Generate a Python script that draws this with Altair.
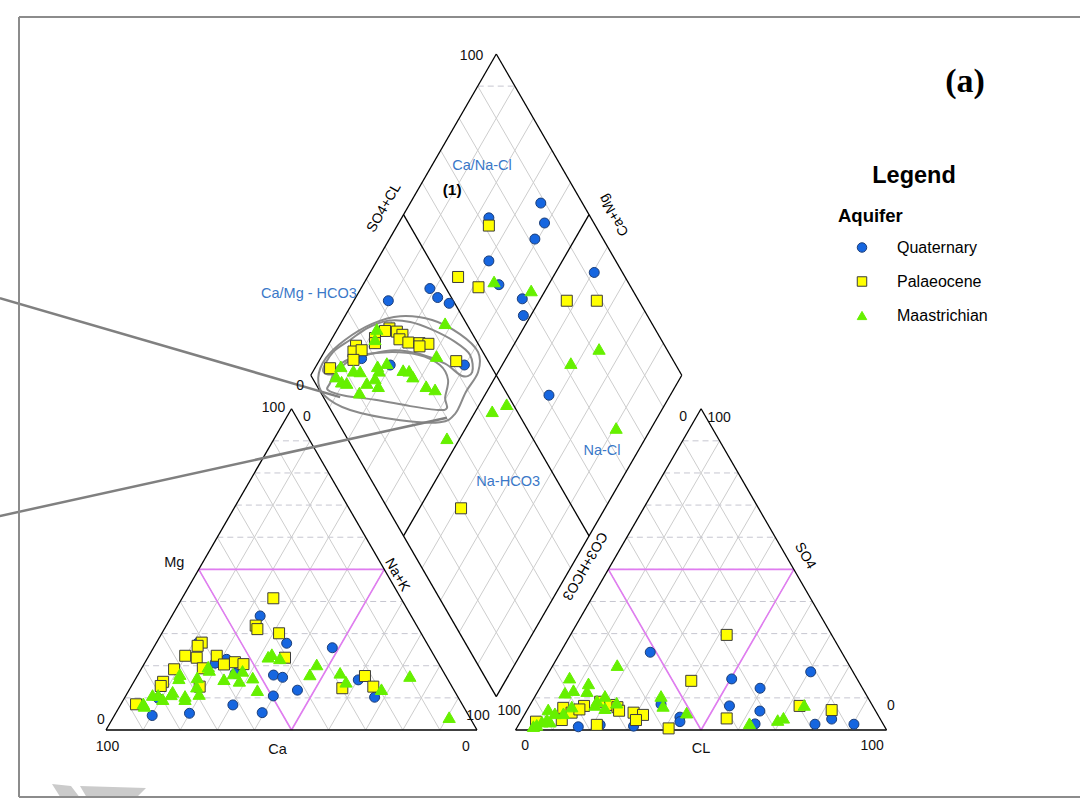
import math
import altair as alt
import pandas as pd

# ---------------- sample values (percent of meq/l) ----------------
AQUIFERS = ["Quaternary", "Palaeocene", "Maastrichian"]

# cation triangle: (Ca, Mg)
cation_quaternary = [(40.7, 35.5), (37.8, 27.0), (61.8, 27.0), (56.5, 22.0), (60.2, 20.8), (56.4, 17.6),
                     (46.3, 17.1), (44.2, 16.4), (42.2, 12.4), (49.6, 10.6), (61.9, 7.8), (55.2, 5.4),
                     (74.9, 5.2), (85.3, 4.5), (26.2, 25.6), (24.2, 15.6), (22.5, 10.2), (81.0, 9.9)]
cation_palaeocene = [(34.4, 41.0), (43.4, 32.5), (43.5, 31.4), (38.3, 30.1), (60.6, 27.2), (62.2, 26.2),
                     (67.1, 23.1), (64.3, 22.5), (58.6, 23.1), (58.0, 20.4), (54.7, 21.1), (52.7, 20.5),
                     (64.3, 19.2), (40.5, 22.5), (72.2, 18.9), (77.1, 15.0), (78.4, 13.7), (68.0, 13.5),
                     (87.9, 8.0), (21.8, 16.8), (29.8, 13.0), (21.2, 13.5)]
cation_maastrichian = [(43.5, 23.6), (44.9, 22.8), (42.0, 22.3), (33.0, 20.4), (36.4, 17.3), (28.0, 17.8),
                       (27.8, 15.0), (19.4, 12.7), (62.6, 19.7), (62.8, 18.7), (71.4, 17.4), (72.3, 16.1),
                       (67.2, 16.4), (68.8, 13.5), (69.3, 11.2), (60.3, 15.8), (56.9, 17.6), (54.0, 18.4),
                       (56.4, 15.3), (52.3, 16.3), (53.0, 12.4), (76.1, 11.9), (76.9, 11.1), (73.4, 10.6),
                       (73.9, 9.6), (82.0, 10.9), (80.5, 10.9), (79.9, 9.6), (85.8, 8.3), (85.9, 7.5),
                       (9.7, 16.8), (5.5, 4.0)]

# anion triangle: (Cl, SO4)
anion_quaternary = [(24.2, 24.2), (35.2, 8.0), (42.3, 4.0), (43.0, 2.6), (16.4, 1.0), (22.0, 1.6),
                    (31.2, 1.2), (50.3, 15.9), (59.4, 13.0), (70.5, 18.1), (53.9, 7.5), (62.9, 5.9),
                    (83.5, 3.4), (79.8, 1.8), (90.3, 1.8), (63.6, 1.9)]
anion_palaeocene = [(39.7, 15.3), (14.7, 7.5), (9.4, 6.9), (10.9, 3.1), (12.4, 5.4), (14.0, 6.4),
                    (18.4, 8.8), (21.6, 7.8), (23.9, 7.1), (24.9, 6.0), (29.1, 5.4), (32.0, 4.7),
                    (30.9, 3.1), (21.1, 1.6), (41.0, 0.5), (4.2, 2.6), (42.1, 29.6), (55.1, 3.6),
                    (72.8, 7.5), (82.1, 6.2)]
anion_maastrichian = [(17.3, 20.2), (6.4, 16.3), (12.4, 14.5), (9.4, 12.4), (13.2, 12.1), (7.5, 11.6),
                      (18.8, 10.6), (17.4, 9.1), (23.0, 8.5), (33.9, 10.6), (36.0, 7.5), (43.4, 5.4),
                      (17.5, 7.8), (20.7, 6.8), (5.6, 6.4), (8.0, 5.2), (10.3, 5.2), (11.5, 7.3),
                      (6.8, 3.3), (5.8, 2.6), (4.9, 1.6), (4.2, 1.2), (8.0, 2.6), (73.9, 7.8),
                      (62.0, 2.1), (69.1, 3.1), (70.3, 3.8)]

# diamond: (SO4+Cl, Ca+Mg)
diamond_quaternary = [(88.8, 64.8), (86.7, 60.7), (81.6, 60.8), (72.5, 76.5), (65.8, 69.8), (64.8, 63.4),
                      (68.9, 54.9), (66.6, 52.0), (92.4, 39.6), (45.6, 81.4), (46.3, 77.9), (48.5, 73.9),
                      (61.1, 32.7), (32.5, 90.7), (16.3, 88.9), (23.0, 80.2), (43.0, 60.2), (22.3, 87.7)]
diamond_palaeocene = [(71.3, 75.3), (55.0, 75.6), (58.9, 68.5), (80.6, 42.6), (88.7, 34.5), (19.8, 38.8),
                      (28.5, 86.1), (26.9, 86.9), (30.0, 83.6), (31.0, 81.6), (29.5, 81.7), (31.4, 78.8),
                      (34.3, 75.7), (36.6, 73.2), (33.8, 75.2), (23.1, 88.5), (22.3, 87.7), (16.8, 92.4),
                      (15.2, 92.2), (17.6, 90.2), (13.9, 90.9), (6.3, 95.9), (41.4, 63.0)]
diamond_maastrichian = [(64.0, 65.2), (72.6, 53.8), (81.8, 26.4), (72.0, 31.8), (74.1, 9.5), (48.3, 42.7),
                        (43.3, 45.5), (44.3, 71.9), (26.9, 53.5), (25.0, 89.4), (22.9, 88.3), (36.9, 69.1),
                        (9.5, 93.3), (12.2, 89.2), (13.9, 87.3), (19.4, 83.4), (19.1, 82.3), (22.4, 81.4),
                        (25.7, 75.9), (27.2, 74.2), (27.3, 72.3), (6.6, 93.0), (7.3, 90.7), (8.5, 89.1),
                        (13.9, 83.7), (16.8, 82.2), (16.5, 80.1), (10.4, 84.2), (29.4, 67.2), (31.3, 64.3)]

# hand-drawn cluster envelopes in the diamond, (SO4+Cl, Ca+Mg)
envelope_upper = [(4.1, 97.5), (9.6, 97.6), (16.1, 94.9), (22.8, 92.0), (29.3, 87.7), (35.1, 81.5),
                  (39.8, 74.4), (44.1, 66.3), (46.1, 60.3), (44.0, 57.0), (40.7, 59.1), (38.0, 65.6),
                  (32.7, 73.9), (26.6, 81.2), (19.3, 87.3), (12.1, 92.1), (6.2, 94.2)]
envelope_lower = [(4.0, 93.6), (8.7, 94.1), (15.7, 90.3), (24.4, 82.8), (32.1, 74.3), (36.4, 66.8),
                  (36.3, 62.3), (32.7, 60.3), (31.6, 58.2), (28.9, 60.3), (22.0, 68.4), (13.5, 78.9),
                  (6.0, 87.6), (2.3, 93.1)]
envelope_outer = [(1.6, 97.6), (6.8, 98.6), (14.7, 96.3), (24.5, 91.5), (33.3, 85.1), (41.3, 75.9),
                  (46.6, 66.2), (48.7, 58.5), (45.6, 55.4), (39.2, 55.6), (32.9, 55.1), (27.5, 57.9),
                  (17.1, 68.9), (5.2, 84.0), (0.5, 93.3)]
# leader lines towards the cluster, (SO4+Cl, Ca+Mg) end points
leaders = [((-71.8, 195.8), (4.5, 88.7)), ((-105.7, 161.9), (30.1, 56.7))]

# water-type labels in the diamond, (SO4+Cl, Ca+Mg)
facies_labels = [("Ca/Na-Cl", 78.7, 86.4), ("Ca/Mg - HCO3", 12.2, 113.2),
                 ("Na-HCO3", 36.6, 30.2), ("Na-Cl", 66.7, 9.7)]
group_label = ("(1)", 66.9, 90.7)

# ---------------- geometry of the Piper layout ----------------
S = math.sqrt(3) / 2
GAP = 10.4                      # spacing between the two triangles (percent units)
A0 = 100 + GAP                  # left corner of the anion triangle
BU, BV = 100 + GAP / 2, GAP * S  # bottom corner of the diamond

W, H = 1080, 798
PX = 3.71                       # pixels per percent unit
OX, OY = 106, 730               # canvas position of the Ca=100 corner
XDOM = [-OX / PX, (W - OX) / PX]
YDOM = [(OY - H) / PX, OY / PX]

SANS = "Liberation Sans"


def cation_xy(ca, mg):
    nak = 100 - ca - mg
    return nak + mg / 2, mg * S


def anion_xy(cl, so4):
    return A0 + cl + so4 / 2, so4 * S


def diamond_xy(a, c):
    return BU + (a - c) / 2, BV + (a + c) * S


def shift(p, dx, dy):
    """Offset a point by a number of screen pixels."""
    return p[0] + dx / PX, p[1] - dy / PX


X = alt.X("x:Q", scale=alt.Scale(domain=XDOM, nice=False, zero=False), axis=None)
Y = alt.Y("y:Q", scale=alt.Scale(domain=YDOM, nice=False, zero=False), axis=None)


def seg_df(pairs):
    return pd.DataFrame([dict(x=p[0], y=p[1], x2=q[0], y2=q[1]) for p, q in pairs])


def rules(pairs, **style):
    return alt.Chart(seg_df(pairs)).mark_rule(**style).encode(X, Y, x2="x2:Q", y2="y2:Q")


def texts(rows, angle=0, **style):
    df = pd.DataFrame([dict(x=p[0], y=p[1], label=t) for t, p in rows])
    return alt.Chart(df).mark_text(angle=angle, align="center", baseline="middle", **style).encode(
        X, Y, text="label:N")


# ---- grid lines ----
solid_grid, dashed_grid = [], []
for off in (0, A0):
    for k in range(10, 100, 10):
        dashed_grid.append(((off + k / 2, k * S), (off + 100 - k / 2, k * S)))
        solid_grid.append(((off + k, 0), (off + k + (100 - k) / 2, (100 - k) * S)))
        solid_grid.append(((off + 100 - k, 0), (off + (100 - k) / 2, (100 - k) * S)))
for k in range(10, 100, 10):
    if k == 50:
        continue
    solid_grid.append((diamond_xy(k, 0), diamond_xy(k, 100)))
    solid_grid.append((diamond_xy(0, k), diamond_xy(100, k)))
dashed_grid.append((diamond_xy(90, 100), diamond_xy(100, 90)))

# ---- outlines ----
edges = []
for off in (0, A0):
    a, b, c = (off, 0), (off + 100, 0), (off + 50, 100 * S)
    edges += [(a, b), (b, c), (c, a)]
dB, dR, dT, dL = diamond_xy(0, 0), diamond_xy(100, 0), diamond_xy(100, 100), diamond_xy(0, 100)
edges += [(dB, dR), (dR, dT), (dT, dL), (dL, dB)]
edges += [(diamond_xy(50, 0), diamond_xy(50, 100)), (diamond_xy(0, 50), diamond_xy(100, 50))]

# ---- field boundaries (magenta) ----
fields = []
for off in (0, A0):
    p, q, r = (off + 25, 50 * S), (off + 75, 50 * S), (off + 50, 0)
    fields += [(p, q), (p, r), (q, r)]

leader_segs = [(diamond_xy(*p), diamond_xy(*q)) for p, q in leaders]

env_rows = []
for name, pts in (("upper", envelope_upper), ("lower", envelope_lower), ("outer", envelope_outer)):
    for i, (a, c) in enumerate(pts):
        x, y = diamond_xy(a, c)
        env_rows.append(dict(x=x, y=y, env=name, i=i))
env_df = pd.DataFrame(env_rows)

# ---- samples ----
rows = []
series = {
    "Quaternary": (cation_quaternary, anion_quaternary, diamond_quaternary),
    "Palaeocene": (cation_palaeocene, anion_palaeocene, diamond_palaeocene),
    "Maastrichian": (cation_maastrichian, anion_maastrichian, diamond_maastrichian),
}
SIZES = {"Quaternary": 100, "Palaeocene": 121, "Maastrichian": 150}
for aq in AQUIFERS:
    cat, ani, dia = series[aq]
    for ca, mg in cat:
        x, y = cation_xy(ca, mg)
        rows.append(dict(x=x, y=y, aquifer=aq, sz=SIZES[aq]))
    for cl, so4 in ani:
        x, y = anion_xy(cl, so4)
        rows.append(dict(x=x, y=y, aquifer=aq, sz=SIZES[aq]))
    for a, c in dia:
        x, y = diamond_xy(a, c)
        rows.append(dict(x=x, y=y, aquifer=aq, sz=SIZES[aq]))
pts_df = pd.DataFrame(rows)

LEG = alt.Legend(orient="none", legendX=838, legendY=207, padding=0,
                 titleFont=SANS, titleFontSize=18.5, titleFontWeight="bold", titleColor="#000000",
                 titlePadding=14, labelFont=SANS, labelFontSize=16, labelColor="#000000",
                 symbolSize=90, symbolStrokeWidth=1, rowPadding=18, symbolOffset=16, labelOffset=27)

points = alt.Chart(pts_df).mark_point(filled=True, opacity=1, strokeWidth=1).encode(
    X, Y,
    shape=alt.Shape("aquifer:N", title="Aquifer", legend=LEG,
                    scale=alt.Scale(domain=AQUIFERS, range=["circle", "square", "triangle-up"])),
    fill=alt.Fill("aquifer:N", title="Aquifer", legend=LEG,
                  scale=alt.Scale(domain=AQUIFERS, range=["#1666e0", "#ffff00", "#66f000"])),
    stroke=alt.Stroke("aquifer:N", title="Aquifer", legend=LEG,
                      scale=alt.Scale(domain=AQUIFERS, range=["#1c3e78", "#3c3c3c", "#66f000"])),
    size=alt.Size("sz:Q", scale=None),
)

envelopes = alt.Chart(env_df).mark_line(interpolate="cardinal-closed", color="#8a8a8a",
                                        strokeWidth=2).encode(X, Y, detail="env:N", order="i:Q")

# ---- axis texts ----
cA, cB, cC = (0, 0), (100, 0), (50, 100 * S)
aA, aB, aC = (A0, 0), (A0 + 100, 0), (A0 + 50, 100 * S)
num_rows = [
    ("100", shift(dT, -24.75, 2)), ("0", shift(dL, -10.75, 10.6)),
    ("100", shift(cC, -18, -0.7)), ("0", shift(cC, 15.5, 8.3)),
    ("0", shift(cA, -5, -10)), ("100", shift(cB, 1, -14)),
    ("100", shift(cA, 1.5, 17)), ("0", shift(cB, -11, 17)),
    ("0", shift(aC, -18, 8.3)), ("100", shift(aC, 18, 9.3)),
    ("100", shift(aA, -6.5, -19)), ("0", shift(aB, 4.2, -24.3)),
    ("0", shift(aA, 9.5, 16)), ("100", shift(aB, -14.5, 16)),
]
name_rows = [
    ("Mg", shift((25, 50 * S), -24.5, -6.4)),
    ("Ca", shift((50, 0), -14, 20)),
    ("CL", shift((A0 + 50, 0), 0, 19)),
]
mid = lambda p, q: ((p[0] + q[0]) / 2, (p[1] + q[1]) / 2)

# faint grey arrow fragment in the lower-left corner (custom symbol path)
ARROW = ("M -0.94 -0.19 L -0.56 -0.15 L -0.30 0.19 L -0.70 0.19 Z "
         "M -0.38 -0.15 L 0.94 -0.11 L 0.64 0.19 L -0.18 0.19 Z")

layers = [
    rules(solid_grid, color="#cdcdcd", strokeWidth=1),
    rules(dashed_grid, color="#c6c6d0", strokeWidth=1, strokeDash=[6, 4]),
    rules(fields, color="#e07cf0", strokeWidth=1.6),
    rules(edges, color="#000000", strokeWidth=1.3),
    envelopes,
    rules(leader_segs, color="#808080", strokeWidth=2.5),
    points,
    texts(num_rows, font=SANS, fontSize=14, color="#111111"),
    texts(name_rows, font=SANS, fontSize=14.5, color="#111111"),
    texts([("Na+K", shift(mid(cB, cC), 12.75, 5.6))], angle=60, font=SANS, fontSize=14, color="#000000"),
    texts([("SO4", shift(mid(aB, aC), 11.25, -13.4))], angle=60, font=SANS, fontSize=14, color="#000000"),
    texts([("CO3+HCO3", shift(mid(aA, aC), -23.75, -3.4))], angle=120, font=SANS, fontSize=14,
          color="#000000"),
    texts([("SO4+CL", shift(mid(dL, dT), -19.5, -6.7))], angle=300, font=SANS, fontSize=14,
          color="#000000"),
    texts([("Ca+Mg", shift(mid(dT, dR), 25, 0.3))], angle=240, font=SANS, fontSize=14, color="#000000"),
    texts([(t, diamond_xy(a, c)) for t, a, c in facies_labels], font=SANS, fontSize=14.5, color="#3a78c8"),
    texts([(group_label[0], diamond_xy(group_label[1], group_label[2]))], font=SANS, fontSize=15.5,
          fontWeight="bold", color="#000000"),
]

# frame (open on the right), watermark fragment and headings
one = pd.DataFrame({"k": [0]})
frame_style = dict(color="#8c8c8c", strokeWidth=2)
layers += [
    alt.Chart(one).mark_point(shape=ARROW, filled=True, color="#cbcbcb", opacity=1, size=10000,
                              strokeWidth=0).encode(x=alt.value(99), y=alt.value(793.5)),
    alt.Chart(one).mark_rule(**frame_style).encode(x=alt.value(19), x2=alt.value(W + 20), y=alt.value(17),
                                                   y2=alt.value(17)),
    alt.Chart(one).mark_rule(**frame_style).encode(x=alt.value(19), x2=alt.value(19), y=alt.value(17),
                                                   y2=alt.value(H - 1)),
    alt.Chart(one).mark_rule(**frame_style).encode(x=alt.value(19), x2=alt.value(W + 20),
                                                   y=alt.value(H - 1), y2=alt.value(H - 1)),
    alt.Chart(one).mark_text(text="Legend", font=SANS, fontSize=23.5, fontWeight="bold", color="#000000",
                             align="center", baseline="middle").encode(x=alt.value(914), y=alt.value(176)),
    alt.Chart(one).mark_text(text="(a)", font="Liberation Serif", fontSize=34, fontWeight="bold",
                             color="#000000", align="center", baseline="middle").encode(
        x=alt.value(965), y=alt.value(82)),
]

chart = alt.layer(*layers).properties(
    width=W, height=H, padding=0, autosize=alt.AutoSizeParams(type="none"), background="white"
).configure_view(stroke=None)

chart.save("out.html", embed_options={"renderer": "svg", "actions": False})
